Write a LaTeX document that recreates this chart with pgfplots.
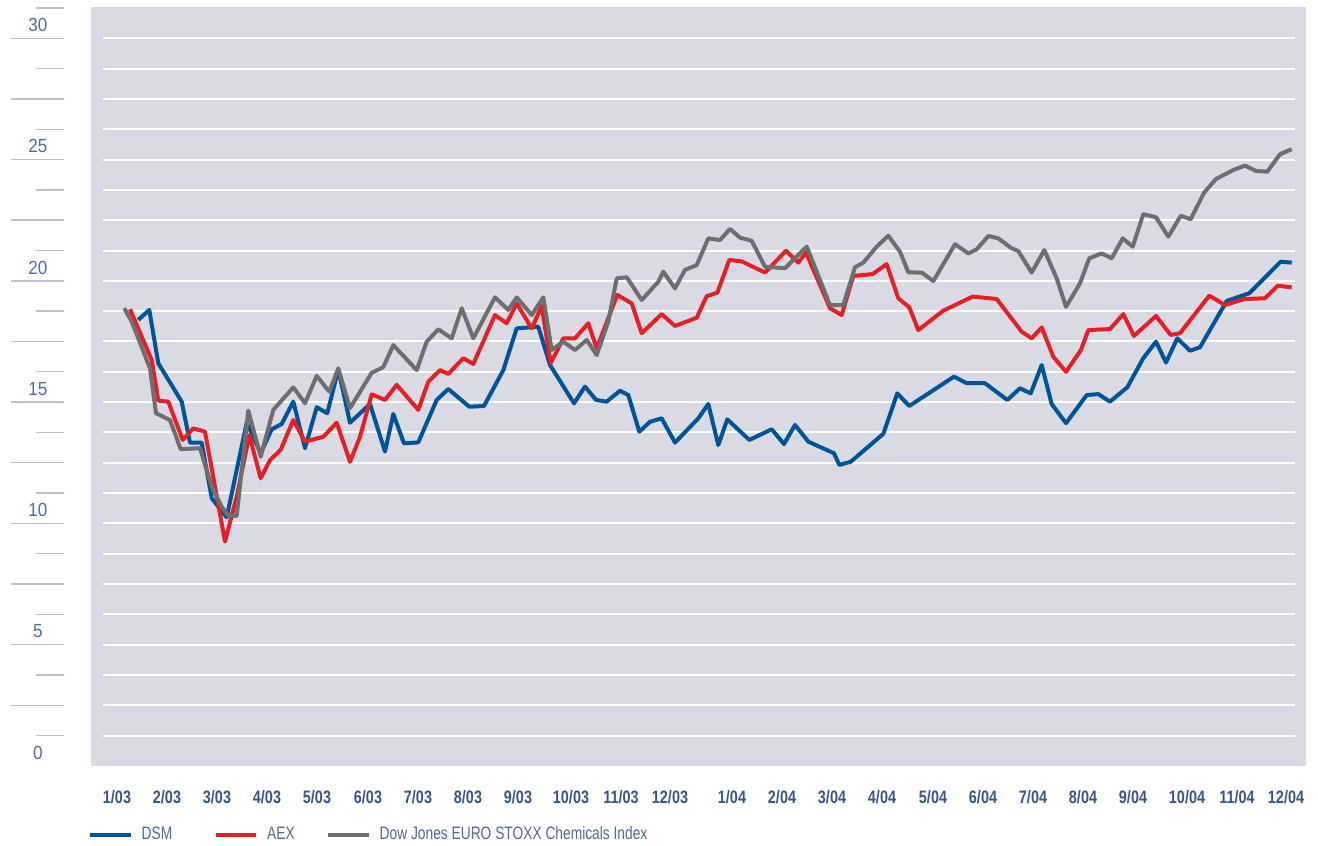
\documentclass[border=0pt]{standalone}
\usepackage{fontspec}
\setmainfont{Liberation Sans}
\newfontfamily\xlabfont{Liberation Sans}[FakeStretch=0.8]
\newfontfamily\ylabfont{Liberation Sans}[FakeStretch=0.9]
\newfontfamily\legfont{Liberation Sans}[FakeStretch=0.765]
\usepackage{pgfplots}
\pgfplotsset{compat=1.18}
\definecolor{bgc}{RGB}{218,218,229}
\definecolor{dsm}{RGB}{0,84,150}
\definecolor{aex}{RGB}{230,30,40}
\definecolor{djs}{RGB}{110,110,110}
\definecolor{ylabc}{RGB}{80,110,160}
\definecolor{xlabc}{RGB}{55,85,135}
\definecolor{legc}{RGB}{80,105,155}
\definecolor{ticc}{RGB}{190,190,204}
\begin{document}
\begin{tikzpicture}
\useasboundingbox (0,0) rectangle (659pt,423pt);
\begin{axis}[
  at={(45.5pt,40.15pt)}, anchor=south west,
  scale only axis, width=607.35pt, height=379.35pt,
  xmin=91, xmax=1305.7, ymin=-1.24, ymax=30.04,
  clip=false,
  axis line style={draw=none},
  tick style={draw=none},
  major tick length=0pt,
  axis background/.style={fill=bgc},
  xtick={117,167,217,267,317,368,418,468,518,571,621,670,732,782,832,882,933,983,1033,1083,1133,1187,1237,1286},
  xticklabels={1/03,2/03,3/03,4/03,5/03,6/03,7/03,8/03,9/03,10/03,11/03,12/03,1/04,2/04,3/04,4/04,5/04,6/04,7/04,8/04,9/04,10/04,11/04,12/04},
  xticklabel style={font=\xlabfont\bfseries\fontsize{9}{10}\selectfont, text=xlabc, anchor=center, yshift=-15.5pt, inner sep=0pt},
  ytick={-0.7,4.3,9.3,14.3,19.3,24.3,29.3},
  yticklabels={0,5,10,15,20,25,30},
  yticklabel style={font=\ylabfont\fontsize{9.5}{11}\selectfont, text=ylabc, anchor=center, xshift=-26.5pt, inner sep=0pt},
  legend columns=-1,
  legend cell align=left,
  legend image code/.code={\draw[#1, line width=2.2pt] (0pt,0pt) -- (20.25pt,0pt);},
  legend style={at={(-0.0026,-0.0912)}, anchor=west, draw=none, fill=none,
    inner sep=0pt, outer sep=0pt, nodes={inner sep=0pt, outer sep=0pt},
    font=\legfont\fontsize{9}{10}\selectfont, text=legc,
    /tikz/every odd column/.append style={column sep=4.5pt}},
]
% white grid lines
\pgfplotsinvokeforeach{0,1.25,2.5,3.75,5,6.25,7.5,8.75,10,11.25,12.5,13.75,15,16.25,17.5,18.75,20,21.25,22.5,23.75,25,26.25,27.5,28.75}{
  \draw[white, line width=1pt] (axis cs:103,#1) -- (axis cs:1295,#1);
}
% decorative left scale lines
\pgfplotsinvokeforeach{0,2.5,5,7.5,10,12.5,15,17.5,20,22.5,25,27.5,30}{
  \draw[ticc, line width=0.7pt] (axis cs:36,#1) -- (axis cs:64,#1);
}
\pgfplotsinvokeforeach{1.25,3.75,6.25,8.75,11.25,13.75,16.25,18.75,21.25,23.75,26.25,28.75}{
  \draw[ticc, line width=0.7pt] (axis cs:11,#1) -- (axis cs:64,#1);
}
\addplot[dsm, line width=2pt, line join=round] coordinates {
(138.3,17.14) (149.3,17.55) (158.3,15.35) (181.7,13.77) (190,12.08) (201.7,12.08) (211.7,9.79) (226.7,9.00) (246.7,12.90) (260.7,11.64) (271.7,12.63) (281.7,12.85) (293.3,13.77) (305,11.85) (316.7,13.54) (327.3,13.29) (338.3,15.10) (350,12.90) (370,13.67) (385,11.71) (393.3,13.26) (404,12.05) (418.3,12.09) (436.7,13.84) (448.3,14.29) (469.3,13.56) (484,13.59) (503.3,15.07) (516.7,16.79) (538.3,16.86) (550,15.28) (574,13.70) (585,14.39) (596,13.84) (606.7,13.77) (620,14.22) (628.3,14.04) (639.3,12.53) (650,12.94) (661.7,13.08) (675,12.08) (698.3,13.08) (708.3,13.67) (718.3,11.98) (727.3,13.04) (749.3,12.19) (771.7,12.63) (784,12.02) (795,12.81) (808.3,12.12) (834,11.64) (839.3,11.16) (850.7,11.29) (883.3,12.44) (897.3,14.11) (909.3,13.59) (954,14.80) (966.7,14.53) (985,14.53) (1007.3,13.84) (1020,14.32) (1030.7,14.11) (1041.7,15.28) (1051.7,13.67) (1066,12.88) (1086.7,14.04) (1098.3,14.08) (1110,13.77) (1127.3,14.36) (1143.3,15.56) (1156,16.24) (1166,15.38) (1177.3,16.38) (1190,15.87) (1200,16.01) (1226.7,17.92) (1249.3,18.24) (1280.7,19.54) (1291.7,19.50)
};
\addlegendentry{\makebox[35.8pt][l]{DSM}}
\addplot[aex, line width=2pt, line join=round] coordinates {
(130,17.58) (151.7,15.49) (158.3,13.81) (168.3,13.77) (182.7,12.19) (193.3,12.67) (205,12.53) (225,8.00) (236.7,9.85) (249.3,12.39) (260.7,10.61) (270,11.36) (280.7,11.78) (293.3,13.01) (305,12.12) (323.3,12.32) (336.7,12.90) (350,11.29) (360,12.32) (371.7,14.07) (385,13.84) (396.7,14.46) (418.3,13.43) (428.3,14.59) (440,15.07) (448.3,14.91) (463.3,15.56) (473.3,15.32) (495,17.34) (506.7,17.00) (516.7,17.82) (531.7,16.79) (541.7,17.71) (550.7,15.35) (563.3,16.38) (575,16.38) (588.3,17.00) (596.7,15.97) (608.3,17.21) (617.3,18.17) (631.7,17.82) (641.7,16.59) (661.7,17.38) (675,16.89) (696.7,17.23) (706.7,18.12) (717.3,18.26) (729.3,19.61) (741.7,19.55) (765,19.09) (786,19.99) (798.3,19.50) (806,19.91) (830,17.62) (841.7,17.34) (853.3,18.95) (872.7,19.03) (886.7,19.44) (898.3,18.03) (909.3,17.66) (918.3,16.72) (943.3,17.52) (972.7,18.10) (996.7,18.00) (1021.7,16.65) (1031.7,16.38) (1041.7,16.83) (1053.3,15.62) (1066,15.00) (1081,15.90) (1088.3,16.72) (1110,16.76) (1123.3,17.38) (1134,16.48) (1156,17.30) (1170.7,16.52) (1180,16.59) (1209.3,18.14) (1225,17.75) (1244.3,18.00) (1265,18.03) (1277.7,18.55) (1291.7,18.48)
};
\addlegendentry{\makebox[29.3pt][l]{AEX}}
\addplot[djs, line width=2pt, line join=round] coordinates {
(124.3,17.62) (131.7,17.07) (150,15.14) (156,13.29) (170,13.01) (180.7,11.81) (200,11.85) (211.7,10.26) (221.7,9.44) (228.3,9.06) (236.7,9.06) (248.3,13.40) (260.7,11.50) (273.3,13.43) (293.3,14.36) (305,13.70) (316.7,14.83) (329.3,14.18) (338.3,15.14) (350,13.50) (371.7,14.96) (383.3,15.19) (393.3,16.10) (416.7,15.07) (426.7,16.24) (438.3,16.75) (451.7,16.38) (461.7,17.62) (473.3,16.38) (495,18.07) (508.3,17.55) (516.7,18.07) (531.7,17.34) (543.3,18.07) (551.7,15.90) (563.3,16.24) (575,15.90) (586.7,16.31) (596.7,15.69) (608.3,17.07) (616.7,18.85) (626.7,18.90) (641.7,17.96) (658.3,18.71) (663.3,19.13) (675,18.44) (685,19.20) (696.7,19.40) (708.3,20.50) (720,20.43) (730,20.89) (740,20.53) (751.7,20.40) (765,19.33) (785,19.27) (806.7,20.16) (830,17.75) (843.3,17.75) (855,19.31) (863.3,19.50) (876.7,20.16) (888.3,20.61) (900,19.95) (908.3,19.10) (921.7,19.09) (933.3,18.74) (955,20.26) (968.3,19.88) (976.7,20.05) (988.3,20.60) (998.3,20.50) (1011.7,20.09) (1018.3,19.98) (1031.7,19.09) (1044.3,20.02) (1056.7,18.85) (1066,17.68) (1080,18.65) (1089.3,19.68) (1101.7,19.88) (1111.7,19.68) (1122.7,20.50) (1132.7,20.16) (1143.3,21.50) (1156,21.37) (1168.3,20.57) (1180.7,21.43) (1190.7,21.29) (1204,22.38) (1216,22.95) (1233.3,23.32) (1245,23.50) (1256,23.28) (1267.3,23.25) (1280,23.97) (1291.7,24.18)
};
\addlegendentry{Dow Jones EURO STOXX Chemicals Index}
\end{axis}
\end{tikzpicture}
\end{document}
